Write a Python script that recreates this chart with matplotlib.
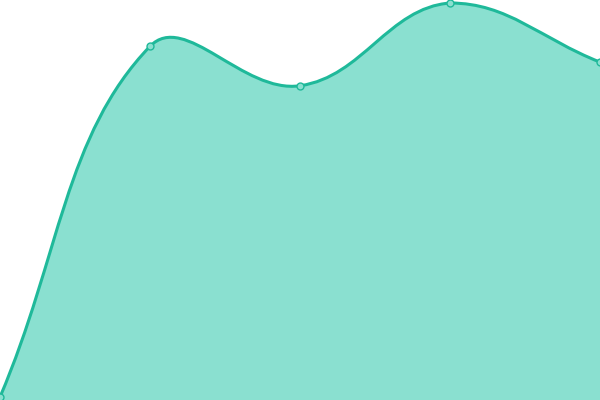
import matplotlib
matplotlib.use("Agg")
import matplotlib.pyplot as plt
import numpy as np
from matplotlib.path import Path
from matplotlib.patches import PathPatch

# data
labels = ["A", "B", "C", "D", "E"]
values = [0, 89, 79, 100, 85]

line_color = "#1fb99a"
fill_color = "#8ae0d0"
point_fill = "#8ae0d0"
tension = 0.4

fig = plt.figure(figsize=(6, 4), dpi=100)
ax = fig.add_axes([0, 0, 1, 1])
ax.set_axis_off()

pad = 3.0 / 394 * 100
ax.set_xlim(0, len(values) - 1)
ax.set_ylim(0 - pad, 100 + pad)

x = np.arange(len(values), dtype=float)
y = np.array(values, dtype=float)

# spline control points in display space
pts = ax.transData.transform(np.column_stack([x, y]))
top = ax.transData.transform((0, 100))[1]
bottom = ax.transData.transform((0, 0))[1]
n = len(pts)
cp_prev = pts.copy()
cp_next = pts.copy()
for i in range(n):
    p0 = pts[max(i - 1, 0)]
    p1 = pts[i]
    p2 = pts[min(i + 1, n - 1)]
    d01 = np.hypot(*(p1 - p0))
    d12 = np.hypot(*(p2 - p1))
    s01 = d01 / (d01 + d12)
    s12 = d12 / (d01 + d12)
    cp_prev[i] = p1 - tension * s01 * (p2 - p0)
    cp_next[i] = p1 + tension * s12 * (p2 - p0)
for arr in (cp_prev, cp_next):
    arr[:, 1] = np.clip(arr[:, 1], bottom, top)

verts = [pts[0]]
codes = [Path.MOVETO]
for i in range(n - 1):
    verts += [cp_next[i], cp_prev[i + 1], pts[i + 1]]
    codes += [Path.CURVE4] * 3
inv = ax.transData.inverted()
verts_d = inv.transform(np.array(verts))

fill_verts = list(verts_d) + [(x[-1], -10), (x[0], -10), (x[0], y[0])]
fill_codes = codes + [Path.LINETO, Path.LINETO, Path.CLOSEPOLY]
ax.add_patch(PathPatch(Path(fill_verts, fill_codes), facecolor=fill_color,
                       edgecolor="none"))
ax.add_patch(PathPatch(Path(verts_d, codes), facecolor="none",
                       edgecolor=line_color, linewidth=2.2))
ax.plot(x, y, "o", markersize=5, markerfacecolor=point_fill,
        markeredgecolor=line_color, markeredgewidth=1.0)

fig.savefig("out.png", dpi=100)
